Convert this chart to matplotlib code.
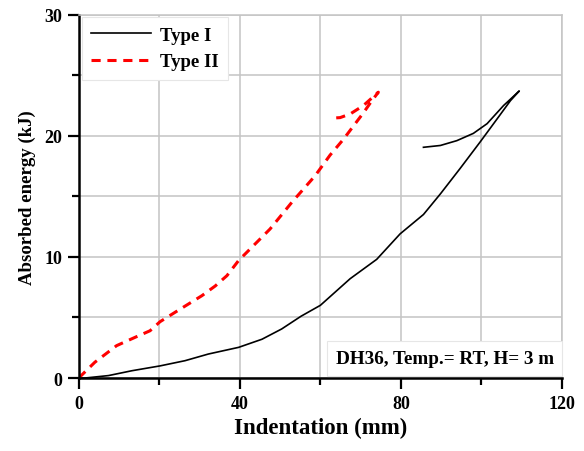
import numpy as np
import matplotlib
matplotlib.use('Agg')
import matplotlib.pyplot as plt
from matplotlib.ticker import MultipleLocator

# values
type1X = [0, 1.6, 7.4, 13.2, 20.2, 26.4, 32.2, 39.7, 45.5, 50.4, 55.2, 60.0,
          67.4, 74.0, 79.8, 85.6, 89.8, 94.7, 99.7, 103.9, 107.2, 109.4,
          105.5, 101.4, 98.0, 93.9, 89.8, 85.6]
type1Y = [0, 0, 0.2, 0.6, 1.0, 1.43, 1.98, 2.53, 3.2, 4.05, 5.1, 6.0,
          8.2, 9.8, 11.9, 13.5, 15.2, 17.3, 19.5, 21.4, 22.9, 23.7,
          22.5, 21.0, 20.2, 19.6, 19.2, 19.05]

type2X = [0, 4.0, 9.4, 14.0, 17.7, 20.2, 23.9, 27.2, 30.6, 33.9, 36.8, 39.7,
          42.4, 47.5, 52.9, 58.7, 62.4, 65.7, 68.2, 70.7, 72.8, 74.4,
          70.7, 67.4, 64.9, 62.4]
type2Y = [0, 1.3, 2.67, 3.36, 3.9, 4.65, 5.42, 6.1, 6.8, 7.6, 8.45, 9.7,
          10.6, 12.3, 14.5, 16.7, 18.4, 19.7, 20.8, 21.9, 22.9, 23.6,
          22.5, 21.8, 21.5, 21.45]

xTicks = [0, 40, 80, 120]
yTicks = [0, 10, 20, 30]
noteText = 'DH36, Temp.= RT, H= 3 m'

plt.rcParams['font.family'] = 'Liberation Serif'
plt.rcParams['font.weight'] = 'bold'

fig = plt.figure(figsize=(5.84, 4.52), dpi=100)
ax = fig.add_axes([0.1348, 0.1615, 0.8275, 0.8038])

ax.plot(type1X, type1Y, color='black', lw=1.2, label='Type I')
ax.plot(type2X, type2Y, color='red', lw=2.2, ls=(0, (3, 2.2)), label='Type II')

ax.set_xlim(0, 120)
ax.set_ylim(0, 30)
ax.set_xticks(xTicks)
ax.set_yticks(yTicks)
ax.xaxis.set_minor_locator(MultipleLocator(20))
ax.yaxis.set_minor_locator(MultipleLocator(5))
ax.grid(True, which='both', color='#c4c4c4', lw=1.1)
ax.set_axisbelow(True)

ax.tick_params(which='major', direction='out', length=8, width=1.6, labelsize=13, pad=4)
ax.tick_params(which='minor', direction='out', length=5, width=1.6)
for side in ['left', 'bottom']:
    ax.spines[side].set_linewidth(1.8)
for side in ['top', 'right']:
    ax.spines[side].set_color('#c4c4c4')
    ax.spines[side].set_linewidth(1.1)

ax.set_xlabel('Indentation (mm)', fontsize=16.5, fontweight='bold', labelpad=4)
ax.set_ylabel('Absorbed energy (kJ)', fontsize=13.5, fontweight='bold', labelpad=6)

leg = ax.legend(loc='upper left', handlelength=3.2, fontsize=13.5, fancybox=False,
                borderaxespad=0.15, labelspacing=0.5, borderpad=0.5, framealpha=1,
                edgecolor='#e6e6e6', handletextpad=0.5)
leg.get_frame().set_linewidth(0.8)

ax.text(0.983, 0.03, noteText, transform=ax.transAxes, ha='right', va='bottom',
        fontsize=13.8, fontweight='bold',
        bbox=dict(boxstyle='square,pad=0.45', fc='white', ec='#e6e6e6', lw=0.8))

plt.savefig('out.png', dpi=100)
plt.close()
